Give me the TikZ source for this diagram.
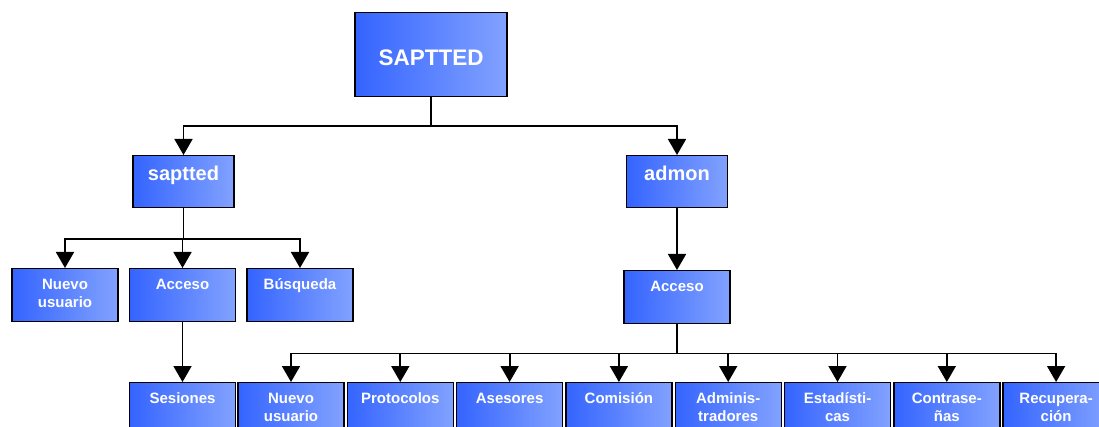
\documentclass[tikz,border=0pt]{standalone}
\usepackage{fontspec}
\setmainfont{Liberation Sans}
\usepackage{tikz}
\usetikzlibrary{arrows.meta, positioning}
\usepackage{xcolor}

\definecolor{azulosc}{RGB}{52,100,255}
\definecolor{azulcla}{RGB}{130,162,255}

\tikzset{
	caja/.style={draw=black, line width=1.4pt, left color=azulosc, right color=azulcla,
		text=white, font=\bfseries\fontsize{15}{18}\selectfont, text width=100pt, align=center,
		inner xsep=3pt, inner ysep=0pt, text height=21pt, text depth=32pt, anchor=north},
	cajamed/.style={caja, font=\bfseries\fontsize{20}{24}\selectfont, text width=95pt,
		text height=25pt, text depth=27pt},
	cajagrande/.style={caja, font=\bfseries\fontsize{22.5}{27}\selectfont, text width=146pt,
		text height=53pt, text depth=31pt},
	flecha/.style={line width=1.8pt, -{Triangle[width=18pt,length=16pt]}},
}

\begin{document}
\begin{tikzpicture}[x=1pt, y=-1pt]
		\useasboundingbox (0,0) rectangle (1099,427);
		\clip (0,0) rectangle (1099,427);
		
		\node[cajagrande] (raiz) at (431,12) {SAPTTED};
		\node[cajamed] (sap) at (183.5,155) {saptted};
		\node[cajamed] (adm) at (677,155) {admon};
		
		% ramal saptted
		\node[caja] (nu1) at (65,268) {Nuevo\\usuario};
		\node[caja] (acc1) at (182.5,268) {Acceso};
		\node[caja] (bus) at (300,268) {Búsqueda};
		\node[caja] (ses) at (182.5,382) {Sesiones};
		
		% ramal admon
		\node[caja] (acc2) at (677,270) {Acceso};
		\node[caja] (nu2) at (291,382) {Nuevo\\usuario};
		\node[caja] (pro) at (400.3,382) {Protocolos};
		\node[caja] (ase) at (509.6,382) {Asesores};
		\node[caja] (com) at (618.9,382) {Comisión};
		\node[caja] (adms) at (728.2,382) {Adminis-\\tradores};
		\node[caja] (est) at (837.5,382) {Estadísti-\\cas};
		\node[caja] (con) at (946.8,382) {Contrase-\\ñas};
		\node[caja] (rec) at (1056.1,382) {Recupera-\\ción};
		
		\draw[flecha] (raiz.south) -- ++(0,29) -| (sap.north);
		\draw[flecha] (raiz.south) -- ++(0,29) -| (adm.north);
		
		\draw[flecha] (sap.south) -- ++(0,31) -| (nu1.north);
		\draw[flecha] (sap.south) -- ++(0,31) -| (acc1.north);
		\draw[flecha] (sap.south) -- ++(0,31) -| (bus.north);
		\draw[flecha] (acc1.south) -- (ses.north);
		
		\draw[flecha] (adm.south) -- (acc2.north);
		\draw[flecha] (acc2.south) -- ++(0,29) -| (nu2.north);
		\draw[flecha] (acc2.south) -- ++(0,29) -| (pro.north);
		\draw[flecha] (acc2.south) -- ++(0,29) -| (ase.north);
		\draw[flecha] (acc2.south) -- ++(0,29) -| (com.north);
		\draw[flecha] (acc2.south) -- ++(0,29) -| (adms.north);
		\draw[flecha] (acc2.south) -- ++(0,29) -| (est.north);
		\draw[flecha] (acc2.south) -- ++(0,29) -| (con.north);
		\draw[flecha] (acc2.south) -- ++(0,29) -| (rec.north);
	\end{tikzpicture}
\end{document}
